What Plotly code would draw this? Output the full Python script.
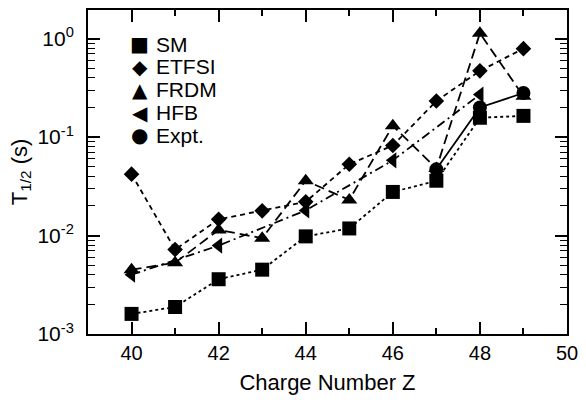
import plotly.graph_objects as go

# Half-lives T1/2 (s) versus proton number Z
z_all = [40, 41, 42, 43, 44, 45, 46, 47, 48, 49]
sm = [0.0016, 0.00188, 0.0036, 0.0045, 0.0098, 0.0118, 0.0277, 0.036, 0.157, 0.164]
etfsi = [0.042, 0.0072, 0.0146, 0.0178, 0.022, 0.053, 0.082, 0.232, 0.47, 0.79]
frdm = [0.0045, 0.0053, 0.0114, 0.0094, 0.036, 0.023, 0.13, 0.048, 1.13, 0.26]
z_hfb = [40, 42, 44, 46, 48]
hfb = [0.004, 0.0079, 0.018, 0.058, 0.27]
z_expt = [47, 48, 49]
expt = [0.047, 0.20, 0.28]

series = [
    # name, x, y, marker symbol, size, dash, key glyph
    ("SM", z_all, sm, "square", 14, "dot", "\u25A0"),
    ("ETFSI", z_all, etfsi, "diamond", 12, "5px,4px", "\u25C6"),
    ("FRDM", z_all, frdm, "triangle-up", 14, "10px,5px", "\u25B2"),
    ("HFB", z_hfb, hfb, "triangle-left", 14, "9px,4px,2px,4px", "\u25C0"),
    ("Expt.", z_expt, expt, "circle", 14, "solid", "\u25CF"),
]

fig = go.Figure()
for name, xs, ys, sym, size, dash, _ in series:
    fig.add_trace(go.Scatter(
        x=xs, y=ys, name=name, mode="lines+markers",
        line=dict(color="black", width=1.8, dash=dash),
        marker=dict(symbol=sym, size=size, color="black"),
        showlegend=False,
    ))

# Key in the upper-left corner
annotations = []
for i, (name, *_rest, glyph) in enumerate(series):
    yk = 0.895 - i * 0.0705
    annotations.append(dict(
        xref="paper", yref="paper", x=0.108, y=yk, text=glyph,
        showarrow=False, xanchor="center", yanchor="middle",
        font=dict(family="DejaVu Sans", size=20, color="black"),
    ))
    annotations.append(dict(
        xref="paper", yref="paper", x=0.137, y=yk, text=name,
        showarrow=False, xanchor="left", yanchor="middle",
        font=dict(family="Liberation Sans, Arial", size=21, color="black"),
    ))

decades = [0.001, 0.01, 0.1, 1]
decade_text = ["10<sup>-3</sup>", "10<sup>-2</sup>", "10<sup>-1</sup>", "10<sup>0</sup>"]
minor_vals = [m * 10 ** e for e in range(-3, 1) for m in range(2, 10)]

fig.update_layout(
    width=586, height=400,
    margin=dict(l=88, r=16, t=8, b=66),
    paper_bgcolor="white", plot_bgcolor="white",
    font=dict(family="Liberation Sans, Arial", size=20, color="black"),
    annotations=annotations,
    xaxis=dict(
        range=[39, 50], tickvals=[40, 42, 44, 46, 48, 50],
        ticks="inside", ticklen=12, tickwidth=1.5, tickcolor="black",
        minor=dict(tickvals=[41, 43, 45, 47, 49], ticks="inside", ticklen=6,
                   tickwidth=1.5, tickcolor="black", showgrid=False),
        showline=True, linecolor="black", linewidth=2, mirror="ticks",
        showgrid=False, zeroline=False,
        title=dict(text="Charge Number Z", font=dict(size=22), standoff=12),
    ),
    yaxis=dict(
        type="log", range=[-3, 0.29],
        tickvals=decades, ticktext=decade_text, tickfont=dict(size=21),
        ticks="inside", ticklen=12, tickwidth=1.5, tickcolor="black",
        minor=dict(tickvals=minor_vals, ticks="inside", ticklen=7,
                   tickwidth=1.2, tickcolor="black", showgrid=False),
        showline=True, linecolor="black", linewidth=2, mirror="ticks",
        showgrid=False, zeroline=False, ticklabelstandoff=8,
        title=dict(text="T<sub>1/2</sub> (s)", font=dict(size=22), standoff=4),
    ),
)

fig.write_html("out.html")
